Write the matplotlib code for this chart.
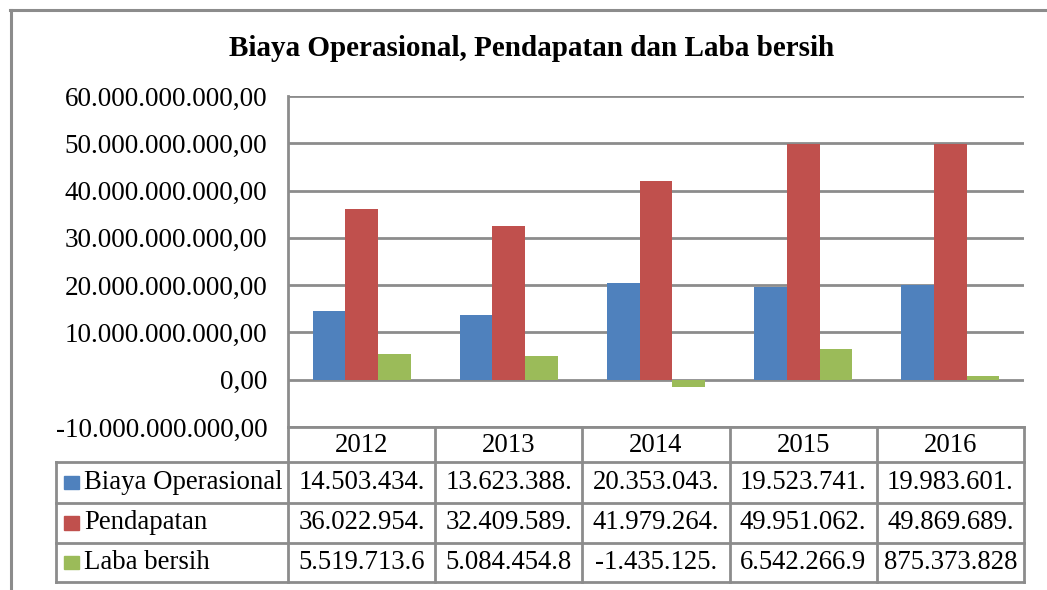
import matplotlib.pyplot as plt
from matplotlib.lines import Line2D
from matplotlib.patches import Rectangle

years = ["2012", "2013", "2014", "2015", "2016"]
series_names = ["Biaya Operasional", "Pendapatan", "Laba bersih"]
biaya = [14503434000, 13623388000, 20353043000, 19523741000, 19983601000]
pendapatan = [36022954000, 32409589000, 41979264000, 49951062000, 49869689000]
laba = [5519713600, 5084454800, -1435125000, 6542266900, 875373828]
colors = ["#4f81bd", "#c0504d", "#9bbb59"]
yticks = [-10e9, 0, 10e9, 20e9, 30e9, 40e9, 50e9, 60e9]

GRAY = "#8c8c8c"
FONT = "Liberation Serif"
FS = 19.3


def fmt_id(v):
    # Indonesian style: dots for thousands, comma decimal
    s = "{:,.2f}".format(v)
    return s.replace(",", "X").replace(".", ",").replace("X", ".")


def cell_text(v):
    # Excel data table cuts the number at the cell width
    s = fmt_id(v)
    return s[:11]


W, H = 1047, 590
fig = plt.figure(figsize=(W / 100, H / 100), dpi=100)


def px(x0, y0, x1, y1):
    return [x0 / W, 1 - y1 / H, (x1 - x0) / W, (y1 - y0) / H]


# outer chart border
fig.add_artist(Line2D([10 / W, 1], [1 - 10 / H, 1 - 10 / H], color=GRAY, lw=2.2,
                      transform=fig.transFigure))
fig.add_artist(Line2D([11 / W, 11 / W], [0, 1 - 10 / H], color=GRAY, lw=2.2,
                      transform=fig.transFigure))

fig.text(532 / W, 1 - 48 / H, "Biaya Operasional, Pendapatan dan Laba bersih",
         ha="center", va="center", fontsize=21, fontweight="bold", family=FONT)

ax = fig.add_axes(px(288, 96, 1024, 427))
all_series = [biaya, pendapatan, laba]
bw = 0.222
xs = range(len(years))
for i, (vals, c) in enumerate(zip(all_series, colors)):
    ax.bar([x + (i - 1) * bw for x in xs], vals, width=bw, color=c, zorder=3)

ax.set_xlim(-0.5, len(years) - 0.5)
ax.set_ylim(yticks[0], yticks[-1])
ax.set_yticks(yticks)
ax.set_yticklabels([fmt_id(t) for t in yticks], family=FONT, fontsize=19.5)
ax.yaxis.grid(True, color=GRAY, lw=2, zorder=0)
ax.set_xticks([])
for s in ["top", "right"]:
    ax.spines[s].set_visible(False)
for s in ["left", "bottom"]:
    ax.spines[s].set_color(GRAY)
    ax.spines[s].set_linewidth(2)
ax.tick_params(axis="y", length=0, pad=15)

# data table below the axis
tab = fig.add_axes(px(40, 427, 1024, 584))
unit = (1024 - 288) / len(years)
left = -0.5 - (288 - 56) / unit
tab.set_xlim(-0.5 - (288 - 40) / unit, len(years) - 0.5)
tab.set_ylim(4, 0.0)
tab.axis("off")
row_y = [0, 0.9, 1.93, 2.96, 3.95]

# vertical lines
for k in range(len(years) + 1):
    tab.plot([k - 0.5, k - 0.5], [0, row_y[-1]], color=GRAY, lw=2, clip_on=False)
tab.plot([left, left], [row_y[1], row_y[-1]], color=GRAY, lw=2, clip_on=False)
for r in row_y[1:]:
    tab.plot([left, len(years) - 0.5], [r, r], color=GRAY, lw=2, clip_on=False)

for k, yr in enumerate(years):
    tab.text(k, (row_y[0] + row_y[1]) / 2 + 0.03, yr, ha="center", va="center",
             fontsize=FS, family=FONT)

for r, (name, vals, c) in enumerate(zip(series_names, all_series, colors)):
    yc = (row_y[r + 1] + row_y[r + 2]) / 2
    tab.add_patch(Rectangle((left + 0.055, yc - 0.17), 0.1, 0.34, color=c,
                            clip_on=False))
    tab.text(left + 0.19, yc, name, ha="left", va="center", fontsize=FS,
             family=FONT)
    for k, v in enumerate(vals):
        tab.text(k, yc, cell_text(v), ha="center", va="center", fontsize=FS,
                 family=FONT)

fig.savefig("out.png", dpi=100)
